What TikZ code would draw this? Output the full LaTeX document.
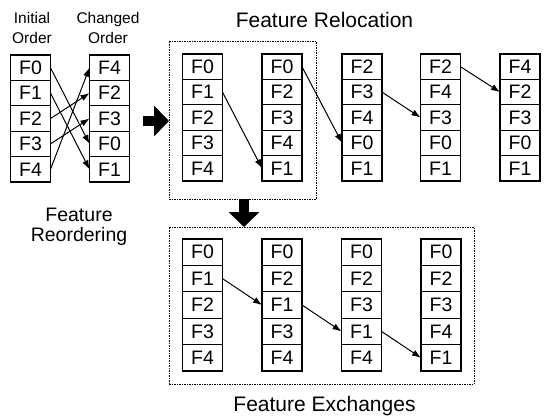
\documentclass[tikz,border=0pt]{standalone}
\usepackage{fontspec}
\setmainfont{Liberation Sans}
\usetikzlibrary{arrows.meta,positioning}
\tikzset{
  basic/.style    = {inner sep=0pt, outer sep=0pt},
  cell/.style     = {basic, draw, line width=1.1pt, minimum width=40pt, anchor=north,
                     font=\fontsize{19.5}{19.5}\selectfont},
  caption/.style  = {basic, align=center, anchor=north,
                     font=\fontsize{15.5}{20}\selectfont},
  title/.style    = {basic, anchor=base, font=\fontsize{21}{21}\selectfont},
  group/.style    = {basic, draw, line width=0.8pt, dash pattern=on 1.5pt off 1pt,
                     anchor=north west},
  move/.style     = {-{Latex[length=9pt,width=6.5pt]}, line width=1pt},
  bigarrow/.style = {line width=10.5pt, -{Triangle[length=15pt,width=30pt]}}
}

% one column of feature cells: name, x, top, cell height, labels
\newcommand{\featcol}[5]{%
  \foreach \lbl [count=\k] in {#5}
    \node[cell, minimum height=#4pt] (#1\k) at (#2,{#3+(\k-1)*#4}) {\lbl};
}

\begin{document}
\begin{tikzpicture}[x=1pt, y=-1pt]
\useasboundingbox (0,0) rectangle (547,416);

% reordering
\featcol{ini}{30.5}{55}{25.4}{F0,F1,F2,F3,F4}
\featcol{chg}{109.5}{55}{25.4}{F4,F2,F3,F0,F1}
\node[caption] (inilbl) at (32,12) {Initial\\Order};
\node[caption] (chglbl) at (108,12) {Changed\\Order};
\node[caption, font=\fontsize{19.5}{20}\selectfont] (reolbl) at (79,208) {Feature\\Reordering};

\foreach \from/\to in {1/4,2/5,3/2,4/3,5/1}
  \draw[move] (ini\from.east) -- (chg\to.west);

% relocation
\node[group, minimum width=147pt, minimum height=158pt] (relbox) at (169,41) {};
\featcol{relA}{202.5}{54}{25.4}{F0,F1,F2,F3,F4}
\featcol{relB}{282}{54}{25.4}{F0,F2,F3,F4,F1}
\featcol{relC}{362}{54}{25.4}{F2,F3,F4,F0,F1}
\featcol{relD}{440.5}{54}{25.4}{F2,F4,F3,F0,F1}
\featcol{relE}{520}{54}{25.4}{F4,F2,F3,F0,F1}
\node[title] (reltitle) at (324.5,27) {Feature Relocation};

\draw[move] (relA2.east) -- (relB5.west);
\draw[move] (relB1.east) -- (relC4.west);
\draw[move] (relC2.east) -- (relD3.west);
\draw[move] (relD1.east) -- (relE2.west);

% exchanges
\node[group, minimum width=305pt, minimum height=157pt] (exbox) at (169,227) {};
\featcol{exA}{202.5}{239}{26.4}{F0,F1,F2,F3,F4}
\featcol{exB}{282}{239}{26.4}{F0,F2,F1,F3,F4}
\featcol{exC}{361.5}{239}{26.4}{F0,F2,F3,F1,F4}
\featcol{exD}{441}{239}{26.4}{F0,F2,F3,F4,F1}
\node[title] (extitle) at (324.5,411.5) {Feature Exchanges};

\draw[move] (exA2.east) -- (exB3.west);
\draw[move] (exB3.east) -- (exC4.west);
\draw[move] (exC4.east) -- (exD5.west);

% block arrows
\coordinate (reoout) at (143,121);
\coordinate (reldown) at (244,199);
\draw[bigarrow] (reoout) -- (reoout -| relbox.west);
\draw[bigarrow] (reldown) -- (reldown |- exbox.north);
\end{tikzpicture}
\end{document}
